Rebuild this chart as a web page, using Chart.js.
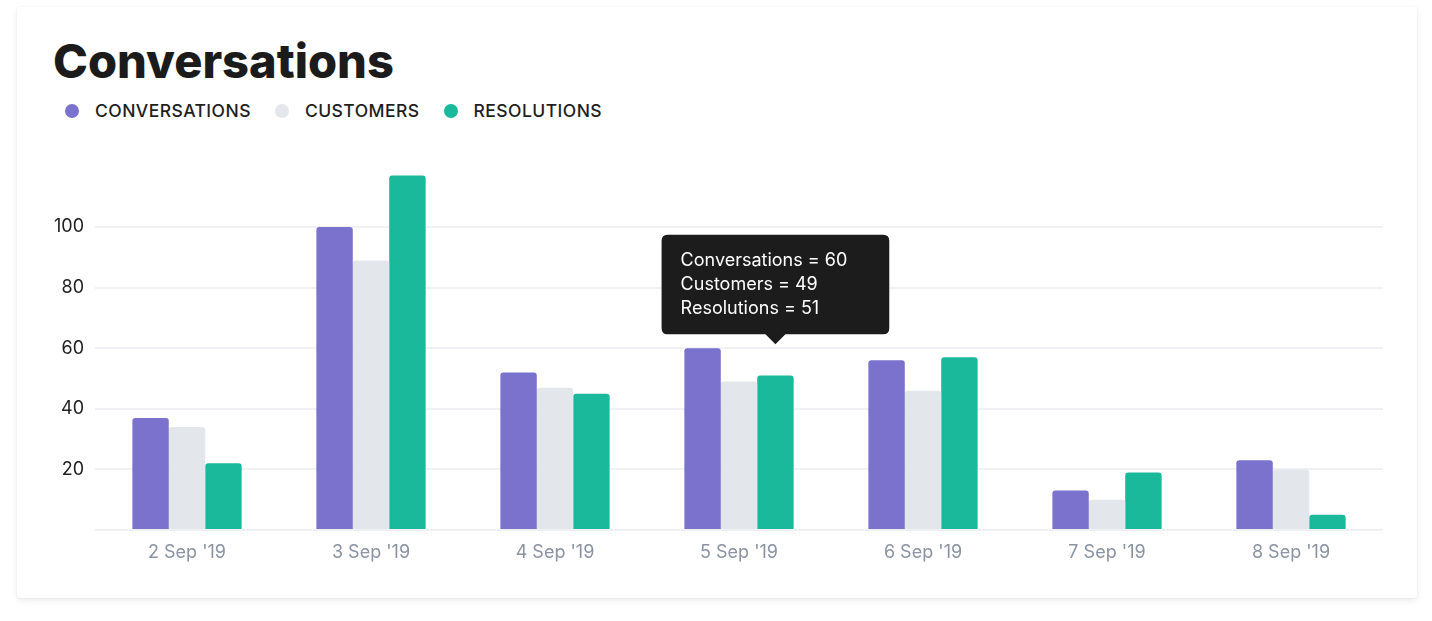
<!DOCTYPE html>
<html>
<head>
<meta charset="utf-8">
<script src="https://cdn.jsdelivr.net/npm/chart.js@4.4.1/dist/chart.umd.min.js"></script>
<style>
  html, body { margin: 0; padding: 0; background: #ffffff; }
  body { width: 1432px; height: 621px; position: relative; overflow: hidden; font-family: Inter, "Noto Sans", sans-serif; }
  .card { position: absolute; left: 17px; top: 7px; width: 1400px; height: 591px; background: #fff;
          border-radius: 3px; box-shadow: 0 3px 6px rgba(0,0,0,0.07), 0 0 2px rgba(0,0,0,0.08); }
  .title { position: absolute; left: 36px; top: 30px; margin: 0; font-size: 47px; font-weight: 800; color: #1b1b1b; letter-spacing: 0px; line-height: 1; }
  .legend { position: absolute; left: 48px; top: 93px; display: flex; align-items: center; }
  .legend .item { display: flex; align-items: center; margin-right: 24px; font-size: 17.5px; font-weight: 500; color: #1e1e1e; letter-spacing: 0.45px; }
  .legend .dot { width: 14px; height: 14px; border-radius: 50%; margin-right: 16px; }
  .chartbox { position: absolute; left: 0; top: 141px; width: 1400px; height: 451px; }
</style>
</head>
<body>
<div class="card">
  <h1 class="title">Conversations</h1>
  <div class="legend" id="legend"></div>
  <div class="chartbox"><canvas id="c"></canvas></div>
</div>
<script>
const categories = ["2 Sep '19", "3 Sep '19", "4 Sep '19", "5 Sep '19", "6 Sep '19", "7 Sep '19", "8 Sep '19"];
const conversations = [37, 100, 52, 60, 56, 13, 23];
const customers = [34, 89, 47, 49, 46, 10, 20];
const resolutions = [22, 117, 45, 51, 57, 19, 5];
const seriesNames = ["Conversations", "Customers", "Resolutions"];
const seriesColors = ["#7b72cd", "#e3e6eb", "#1bb99b"];
const yTicks = [20, 40, 60, 80, 100];
const tooltipIndex = 3;

const seriesData = [conversations, customers, resolutions];

const legendEl = document.getElementById('legend');
seriesNames.forEach((n, i) => {
  const it = document.createElement('div');
  it.className = 'item';
  const d = document.createElement('span');
  d.className = 'dot';
  d.style.background = seriesColors[i];
  it.appendChild(d);
  it.appendChild(document.createTextNode(n.toUpperCase()));
  legendEl.appendChild(it);
});

Chart.Tooltip.positioners.lastBar = function(items) {
  if (!items.length) return false;
  const last = items[items.length - 1].element;
  let minY = Infinity;
  items.forEach(it => { minY = Math.min(minY, it.element.y); });
  return { x: last.x, y: minY };
};

const ctx = document.getElementById('c');
const chart = new Chart(ctx, {
  type: 'bar',
  data: {
    labels: categories,
    datasets: seriesNames.map((n, i) => ({
      label: n,
      data: seriesData[i],
      backgroundColor: seriesColors[i],
      hoverBackgroundColor: seriesColors[i],
      borderRadius: 3,
      categoryPercentage: 0.594,
      barPercentage: 1.0
    }))
  },
  options: {
    responsive: true,
    maintainAspectRatio: false,
    animation: false,
    events: [],
    layout: { padding: { left: 37, right: 34, top: 18.5, bottom: 0 } },
    plugins: {
      legend: { display: false },
      title: { display: false },
      tooltip: {
        enabled: true,
        mode: 'index',
        intersect: false,
        position: 'lastBar',
        yAlign: 'bottom',
        xAlign: 'center',
        backgroundColor: '#1c1c1c',
        bodyColor: '#ffffff',
        bodyFont: { family: 'Inter', size: 18, lineHeight: 1.2 },
        bodySpacing: 2.4,
        padding: { left: 19, right: 42, top: 15, bottom: 15 },
        cornerRadius: 6,
        caretSize: 10,
        caretPadding: 4,
        displayColors: false,
        callbacks: {
          title: () => '',
          label: (c) => c.dataset.label + ' = ' + c.parsed.y
        }
      }
    },
    scales: {
      x: {
        grid: { display: false, drawTicks: false },
        border: { display: false },
        ticks: { color: '#8a93a3', font: { family: 'Inter', size: 18 }, padding: 12 },
        afterFit: (s) => { s.height = 69; s.paddingLeft = 0; s.paddingRight = 0; }
      },
      y: {
        min: 0,
        max: 120,
        afterBuildTicks: (s) => { s.ticks = [0].concat(yTicks).concat([120]).map(v => ({ value: v })); },
        grid: {
          drawTicks: false,
          lineWidth: 2,
          color: (c) => (c.tick && c.tick.value === 120) ? 'rgba(0,0,0,0)' : '#eff1f5'
        },
        border: { display: false },
        ticks: {
          color: '#222222',
          font: { family: 'Inter', size: 18 },
          padding: 11,
          callback: (v) => yTicks.includes(v) ? String(v) : ''
        },
        afterFit: (s) => { s.width = 41; s.paddingTop = 0; s.paddingBottom = 0; }
      }
    }
  }
});

const active = seriesNames.map((n, i) => ({ datasetIndex: i, index: tooltipIndex }));
const meta = chart.getDatasetMeta(0).data[tooltipIndex];
chart.tooltip.setActiveElements(active, { x: meta.x, y: meta.y });
chart.update();
</script>
</body>
</html>
